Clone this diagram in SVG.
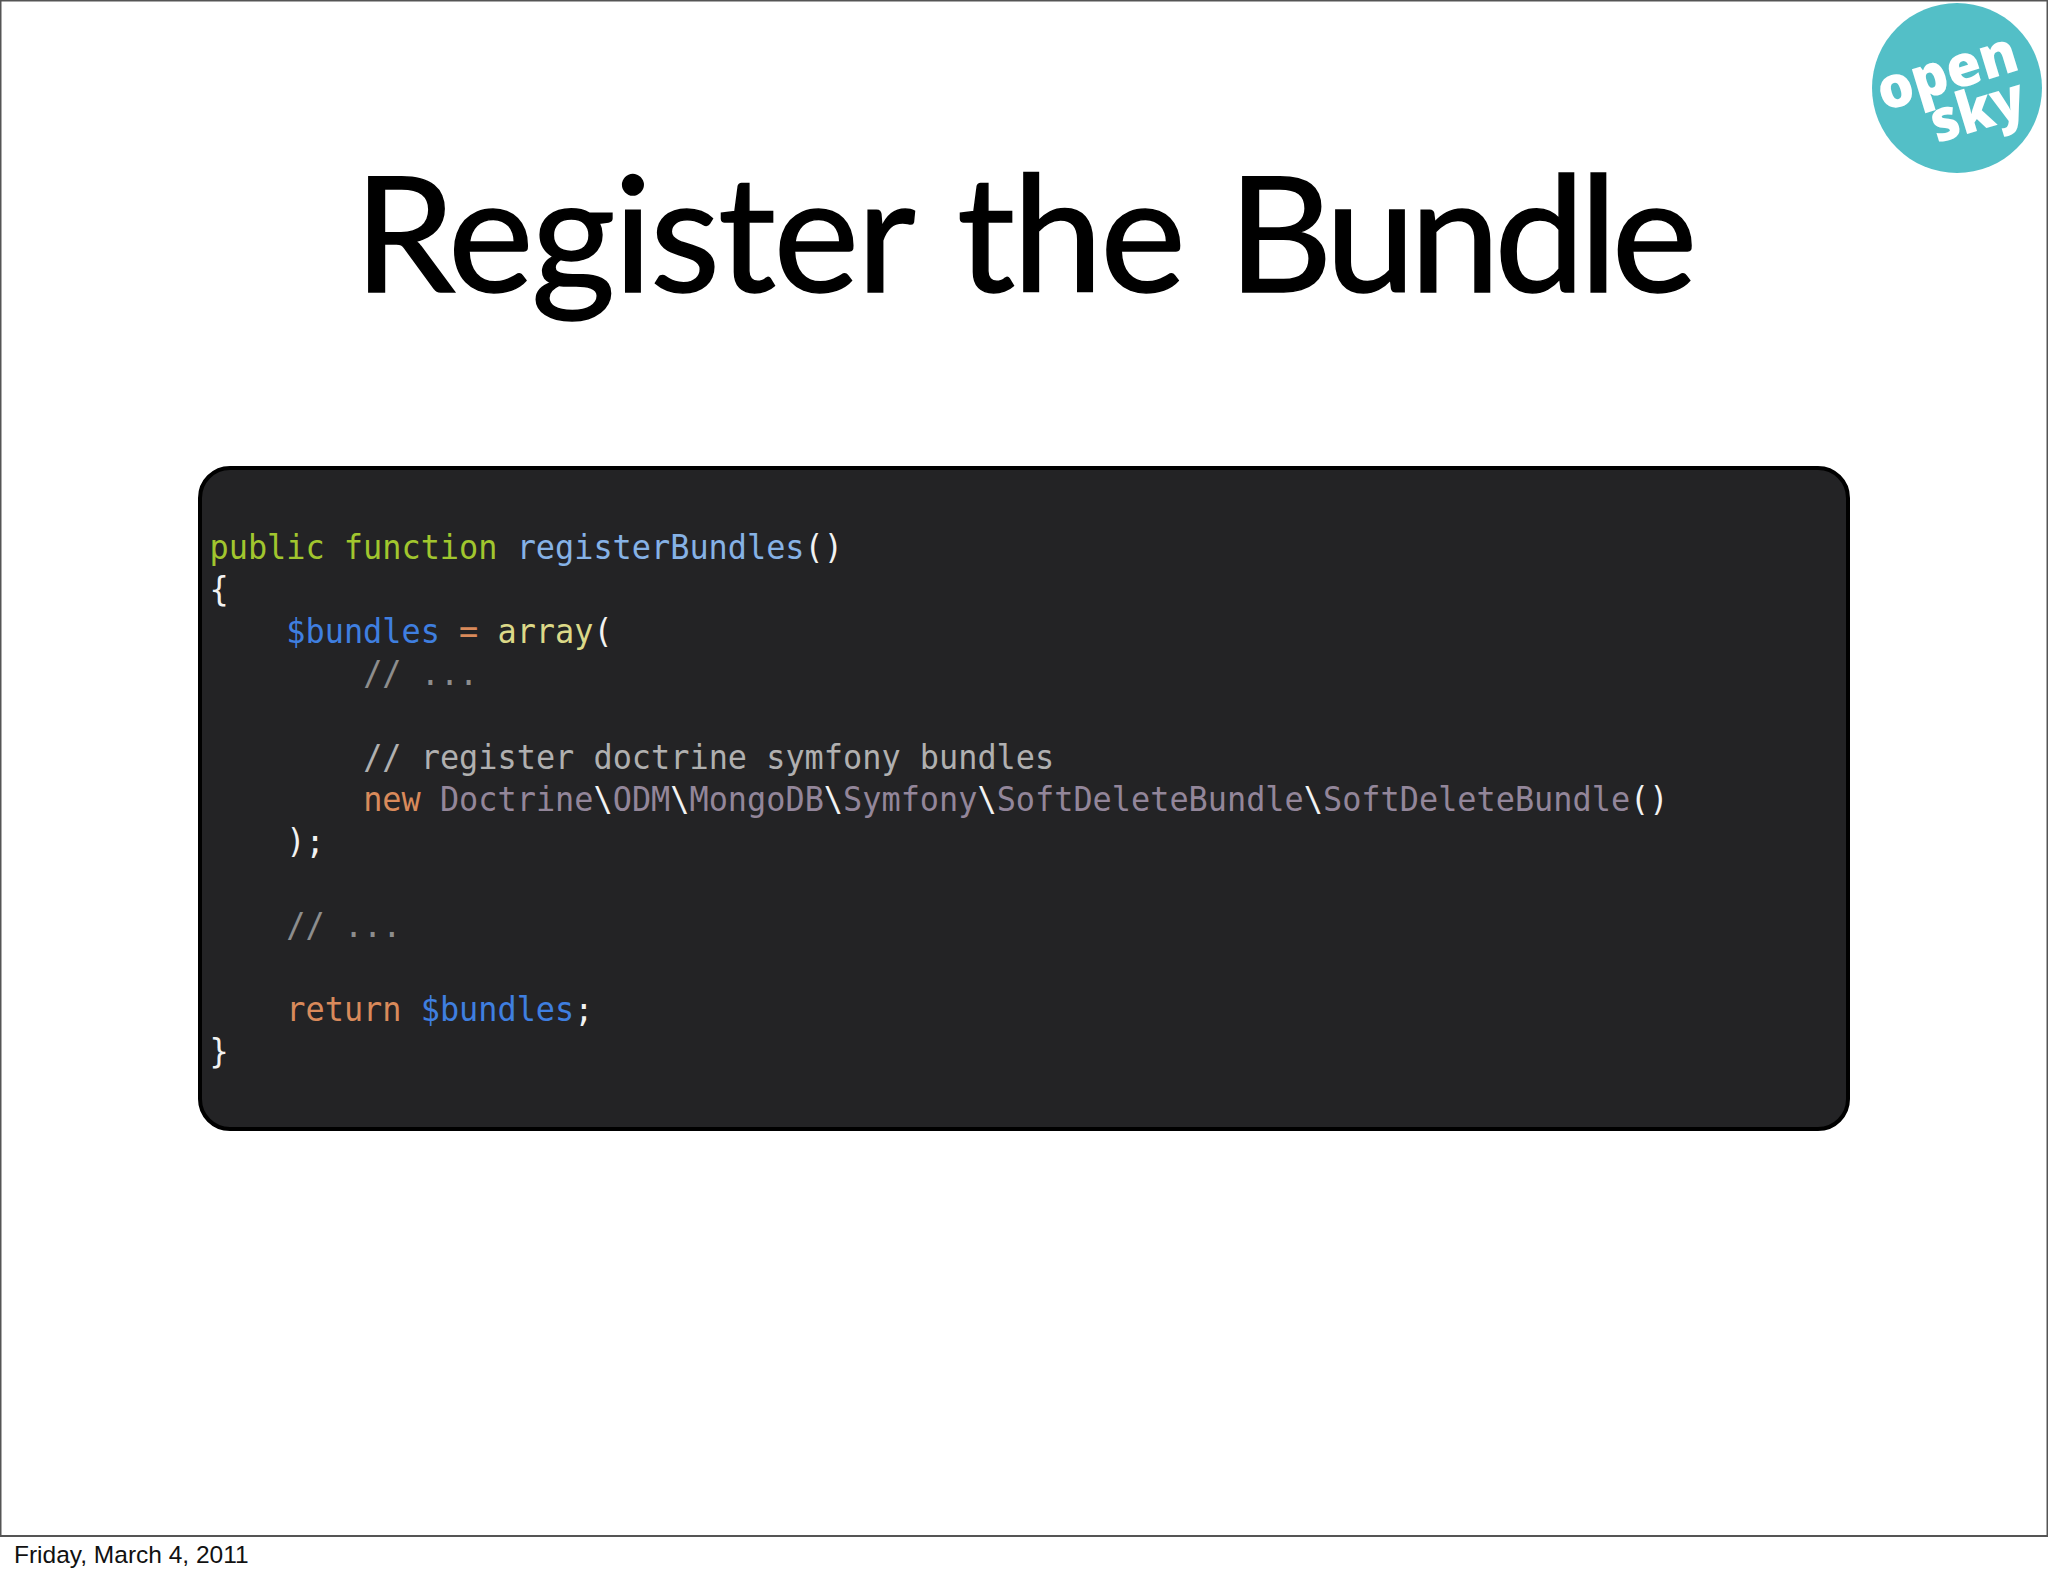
<svg xmlns="http://www.w3.org/2000/svg" width="2048" height="1576" viewBox="0 0 2048 1576">
<style>
.c{font-family:"DejaVu Sans Mono","Liberation Mono",monospace;font-size:34px}
.g{fill:#a1c62e}.b{fill:#86b2e6}.w{fill:#f2f2f2}.v{fill:#3f7fe0}.o{fill:#d98a5b}.y{fill:#dcd988}.m{fill:#8d8d8d}.t{fill:#b0b0b0}.p{fill:#93869a}
</style>
<rect width="2048" height="1576" fill="#fff"/>
<g id="frame"><rect x="0.5" y="0.5" width="2047" height="1535.5" fill="none" stroke="#555" stroke-width="2"/></g>
<g id="logo">
<circle cx="1957" cy="88" r="85" fill="#53bfc7"/>
<g transform="rotate(-17 1957 88)" font-family="'Open Sans', Lato, sans-serif" font-weight="800" fill="#fff" text-anchor="middle">
<text x="1952" y="89" font-size="58" textLength="144" lengthAdjust="spacingAndGlyphs">open</text>
<text x="1970" y="135" font-size="58" textLength="96" lengthAdjust="spacingAndGlyphs">sky</text>
</g>
</g>
<text id="title" y="292" font-family="Lato, 'Open Sans', sans-serif" font-size="162" fill="#000" stroke="#000" stroke-width="1.5"><tspan x="354" letter-spacing="-2.2">Register</tspan> <tspan x="957" letter-spacing="-2.6">the</tspan> <tspan x="1228" letter-spacing="-5.8">Bundle</tspan></text>
<g id="code">
<rect x="200" y="468" width="1648" height="661" rx="30" fill="#232325" stroke="#000" stroke-width="4"/>
<g class="c" transform="translate(209.5 1) scale(0.938 1)">
<text y="558"><tspan class="g">public function </tspan><tspan class="b">registerBundles</tspan><tspan class="w">()</tspan></text>
<text y="600" class="w">{</text>
<text x="81.9" y="642"><tspan class="v">$bundles </tspan><tspan class="o">= </tspan><tspan class="y">array</tspan><tspan class="w">(</tspan></text>
<text x="163.8" y="684" class="m">// ...</text>
<text x="163.8" y="768" class="t">// register doctrine symfony bundles</text>
<text x="163.8" y="810"><tspan class="o">new </tspan><tspan class="p">Doctrine</tspan><tspan class="w">\</tspan><tspan class="p">ODM</tspan><tspan class="w">\</tspan><tspan class="p">MongoDB</tspan><tspan class="w">\</tspan><tspan class="p">Symfony</tspan><tspan class="w">\</tspan><tspan class="p">SoftDeleteBundle</tspan><tspan class="w">\</tspan><tspan class="p">SoftDeleteBundle</tspan><tspan class="w">()</tspan></text>
<text x="81.9" y="852" class="w">);</text>
<text x="81.9" y="936" class="m">// ...</text>
<text x="81.9" y="1020"><tspan class="o">return </tspan><tspan class="v">$bundles</tspan><tspan class="w">;</tspan></text>
<text y="1062" class="w">}</text>
</g>
</g>
<text id="date" x="14" y="1563" font-family="Liberation Sans, Arial, sans-serif" font-size="24.5" fill="#111">Friday, March 4, 2011</text>
</svg>
